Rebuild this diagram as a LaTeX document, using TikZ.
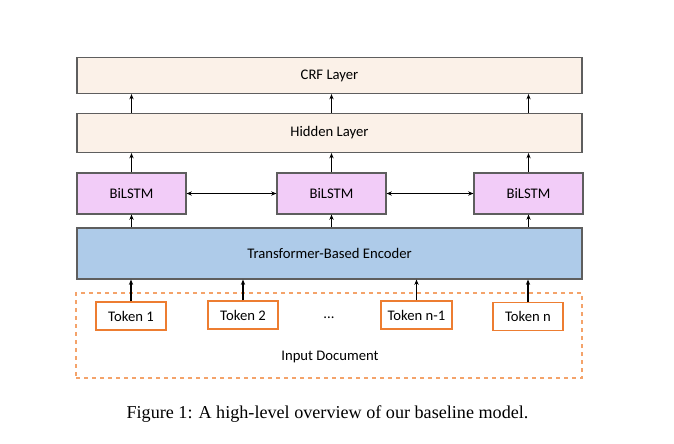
\documentclass[tikz,border=0pt]{standalone}
\usepackage{fontspec}
\setmainfont{Carlito}
\newfontfamily\capfont{Liberation Serif}
\usepackage{xcolor}
\usetikzlibrary{arrows.meta}

\definecolor{layerfill}{HTML}{FBF1E8}
\definecolor{lstmfill}{HTML}{F2CCF8}
\definecolor{encfill}{HTML}{AECBE9}
\definecolor{boxline}{HTML}{5E5E5E}
\definecolor{tokline}{HTML}{ED7D31}
\definecolor{docline}{HTML}{F4A36A}

\tikzset{
  layerbox/.style={draw=boxline,line width=0.8pt,fill=layerfill,minimum width=505*0.75pt,inner sep=0pt},
  lstmbox/.style={draw=boxline,line width=0.8pt,fill=lstmfill,minimum width=109*0.75pt,minimum height=41*0.75pt,inner sep=0pt},
  tokbox/.style={draw=tokline,line width=0.8pt,fill=white,minimum width=70*0.75pt,minimum height=28*0.75pt,inner sep=0pt},
  uparrow/.style={-{Stealth[length=4pt,width=3.2pt]},line width=1pt},
}

\begin{document}
\begin{tikzpicture}[x=0.75pt,y=0.75pt,yscale=-1,xscale=1,font=\fontsize{11}{13}\selectfont]

\useasboundingbox (0,0) rectangle (674,443);

% layers
\node (crf) [layerbox,minimum height=36*0.75pt] at (329.5,75.5) {CRF Layer};
\node (hidden) [layerbox,minimum height=39*0.75pt] at (329.5,133) {Hidden Layer};

\node (lstma) [lstmbox] at (131.5,193.5) {BiLSTM};
\node (lstmb) [lstmbox] at (331.5,193.5) {BiLSTM};
\node (lstmc) [lstmbox] at (528.5,193.5) {BiLSTM};

\node (enc) [layerbox,fill=encfill,minimum height=51*0.75pt] at (329.5,253.5) {Transformer-Based Encoder};

% input document
\node (doc) [draw=docline,dashed,line width=0.9pt,minimum width=506*0.75pt,minimum height=85*0.75pt,inner sep=0pt] at (329,335.5) {};
\node (toka) [tokbox] at (131,316) {Token 1};
\node (tokb) [tokbox] at (243,315) {Token 2};
\node (dots) at (329,318) {...};
\node (tokc) [tokbox,minimum width=71*0.75pt] at (416.5,315) {Token n-1};
\node (tokd) [tokbox] at (528,316.5) {Token n};
\node (doclabel) at (330,357) {Input Document};

% arrows
\foreach \n in {lstma,lstmb,lstmc} {
  \draw [uparrow] (enc.north -| \n) -- (\n.south);
  \draw [uparrow] (\n.north) -- (\n.north |- hidden.south);
  \draw [uparrow] (hidden.north -| \n) -- (crf.south -| \n);
}
\draw [{Stealth[length=4pt,width=3.2pt]}-{Stealth[length=4pt,width=3.2pt]},line width=1pt] (lstma.east) -- (lstmb.west);
\draw [{Stealth[length=4pt,width=3.2pt]}-{Stealth[length=4pt,width=3.2pt]},line width=1pt] (lstmb.east) -- (lstmc.west);
\foreach \t in {toka,tokb,tokc,tokd} {
  \draw [uparrow] (\t.north) -- (\t.north |- enc.south);
}

% caption
\node (caption) at (327.5,414) {\capfont\fontsize{13.6}{16}\selectfont Figure 1: A high-level overview of our baseline model.};

\end{tikzpicture}
\end{document}
